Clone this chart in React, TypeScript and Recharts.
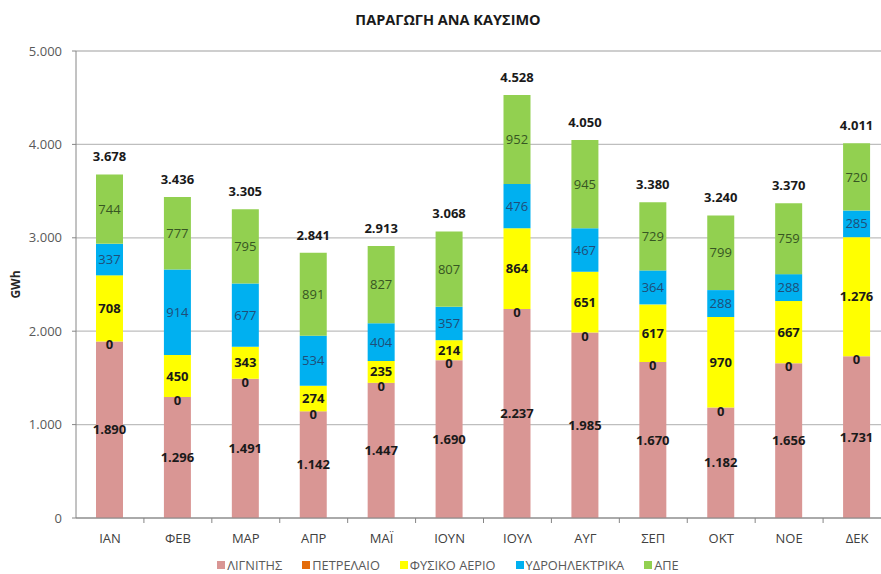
import React from 'react';
import { BarChart, Bar, XAxis, YAxis, CartesianGrid, Legend, LabelList } from 'recharts';

const months = ['ΙΑΝ', 'ΦΕΒ', 'ΜΑΡ', 'ΑΠΡ', 'ΜΑΪ', 'ΙΟΥΝ', 'ΙΟΥΛ', 'ΑΥΓ', 'ΣΕΠ', 'ΟΚΤ', 'ΝΟΕ', 'ΔΕΚ'];
const lignite = [1890, 1296, 1491, 1142, 1447, 1690, 2237, 1985, 1670, 1182, 1656, 1731];
const oil = [0, 0, 0, 0, 0, 0, 0, 0, 0, 0, 0, 0];
const gas = [708, 450, 343, 274, 235, 214, 864, 651, 617, 970, 667, 1276];
const hydro = [337, 914, 677, 534, 404, 357, 476, 467, 364, 288, 288, 285];
const res = [744, 777, 795, 891, 827, 807, 952, 945, 729, 799, 759, 720];
const totals = [3678, 3436, 3305, 2841, 2913, 3068, 4528, 4050, 3380, 3240, 3370, 4011];
const yTicks = [0, 1000, 2000, 3000, 4000, 5000];

const seriesNames = {
  lignite: 'ΛΙΓΝΙΤΗΣ',
  oil: 'ΠΕΤΡΕΛΑΙΟ',
  gas: 'ΦΥΣΙΚΟ ΑΕΡΙΟ',
  hydro: 'ΥΔΡΟΗΛΕΚΤΡΙΚΑ',
  res: 'ΑΠΕ',
};
const colors = {
  lignite: '#D99694',
  oil: '#E46C0A',
  gas: '#FFFF00',
  hydro: '#00B0F0',
  res: '#92D050',
};

const data = months.map((m, i) => ({
  month: m,
  lignite: lignite[i],
  oil: oil[i],
  gas: gas[i],
  hydro: hydro[i],
  res: res[i],
  total: totals[i],
}));

const fmt = (v: any) => {
  const n = Math.round(Number(v));
  return String(n).replace(/\B(?=(\d{3})+(?!\d))/g, '.');
};

const FONT = '"Open Sans", "DejaVu Sans", sans-serif';
const CHART_W = 900;
const CHART_H = 574;
const M = { top: 51, right: 9, left: 0, bottom: 0 };
const Y_W = 76;
const BAND = (CHART_W - M.left - M.right - Y_W) / months.length;

const XTick = (props: any) => {
  const { x, payload } = props;
  return (
    <g>
      <line x1={x + BAND / 2} x2={x + BAND / 2} y1={518} y2={523} stroke="#868686" strokeWidth={1} />
      <text x={x} y={543} textAnchor="middle" fontFamily={FONT} fontSize={13} fill="#404040">
        {payload.value}
      </text>
    </g>
  );
};

const LegendContent = () => (
  <div
    style={{
      display: 'flex',
      justifyContent: 'center',
      alignItems: 'center',
      paddingTop: 9,
      fontFamily: FONT,
      fontSize: 12.8,
      color: '#595959',
      lineHeight: '16px',
    }}
  >
    {(Object.keys(seriesNames) as (keyof typeof seriesNames)[]).map((k, i) => (
      <div key={k} style={{ display: 'flex', alignItems: 'center', marginLeft: i === 0 ? 0 : 20 }}>
        <span style={{ display: 'inline-block', width: 8, height: 8, background: colors[k], marginRight: 2 }} />
        <span>{seriesNames[k]}</span>
      </div>
    ))}
  </div>
);

const YLabel = (props: any) => {
  const vb = props.viewBox || {};
  const cy = vb.y + vb.height / 2;
  return (
    <text
      x={15}
      y={cy}
      transform={`rotate(-90 15 ${cy})`}
      textAnchor="middle"
      dominantBaseline="central"
      fontFamily={FONT}
      fontSize={12}
      fontWeight="bold"
      fill="#262626"
    >
      GWh
    </text>
  );
};

const OilLabel = (props: any) => {
  const { x, y, width, value } = props;
  return (
    <text
      x={Number(x) + Number(width) / 2}
      y={Number(y) + 3}
      textAnchor="middle"
      dominantBaseline="central"
      fontFamily={FONT}
      fontSize={13}
      fontWeight="bold"
      fill="#1a1a1a"
    >
      {fmt(value)}
    </text>
  );
};

export default function App() {
  const boldLabel = { fontFamily: FONT, fontSize: 13, fontWeight: 'bold', fill: '#1a1a1a' } as any;
  return (
    <div style={{ position: 'absolute', top: 0, left: 0, width: 881, height: 574, overflow: 'hidden', background: '#fff' }}>
      <div
        style={{
          position: 'absolute',
          top: 10,
          left: 0,
          width: 896,
          textAlign: 'center',
          fontFamily: FONT,
          fontWeight: 'bold',
          fontSize: 14.5,
          color: '#1a1a1a',
          lineHeight: '20px',
        }}
      >
        ΠΑΡΑΓΩΓΗ ΑΝΑ ΚΑΥΣΙΜΟ
      </div>
      <BarChart width={CHART_W} height={CHART_H} data={data} margin={M} barSize={27}>
        <CartesianGrid vertical={false} stroke="#BEBEBE" strokeWidth={1.3} />
        <XAxis
          dataKey="month"
          height={30}
          tickLine={false}
          axisLine={{ stroke: '#868686' }}
          tick={<XTick />}
          interval={0}
        />
        <YAxis
          width={Y_W}
          domain={[0, 5000]}
          ticks={yTicks}
          tickFormatter={fmt}
          axisLine={{ stroke: '#868686' }}
          tickLine={{ stroke: '#868686' }}
          tickSize={4}
          tickMargin={10}
          tick={{ fontFamily: FONT, fontSize: 13, fill: '#595959' }}
          label={<YLabel />}
          interval={0}
        />
        <Legend verticalAlign="bottom" height={26} wrapperStyle={{ left: 0, width: 896, height: 26 }} content={<LegendContent />} />
        <Bar dataKey="lignite" name={seriesNames.lignite} stackId="a" fill={colors.lignite} isAnimationActive={false}>
          <LabelList dataKey="lignite" position="center" formatter={fmt} style={boldLabel} />
          <LabelList dataKey="oil" content={<OilLabel />} />
        </Bar>
        <Bar dataKey="oil" name={seriesNames.oil} stackId="a" fill={colors.oil} isAnimationActive={false} />
        <Bar dataKey="gas" name={seriesNames.gas} stackId="a" fill={colors.gas} isAnimationActive={false}>
          <LabelList dataKey="gas" position="center" formatter={fmt} style={boldLabel} />
        </Bar>
        <Bar dataKey="hydro" name={seriesNames.hydro} stackId="a" fill={colors.hydro} isAnimationActive={false}>
          <LabelList
            dataKey="hydro"
            position="center"
            formatter={fmt}
            style={{ fontFamily: FONT, fontSize: 13, fill: '#1F4E79' } as any}
          />
        </Bar>
        <Bar dataKey="res" name={seriesNames.res} stackId="a" fill={colors.res} isAnimationActive={false}>
          <LabelList
            dataKey="res"
            position="center"
            formatter={fmt}
            style={{ fontFamily: FONT, fontSize: 13, fill: '#375623' } as any}
          />
          <LabelList dataKey="total" position="top" offset={13} formatter={fmt} style={boldLabel} />
        </Bar>
      </BarChart>
    </div>
  );
}
